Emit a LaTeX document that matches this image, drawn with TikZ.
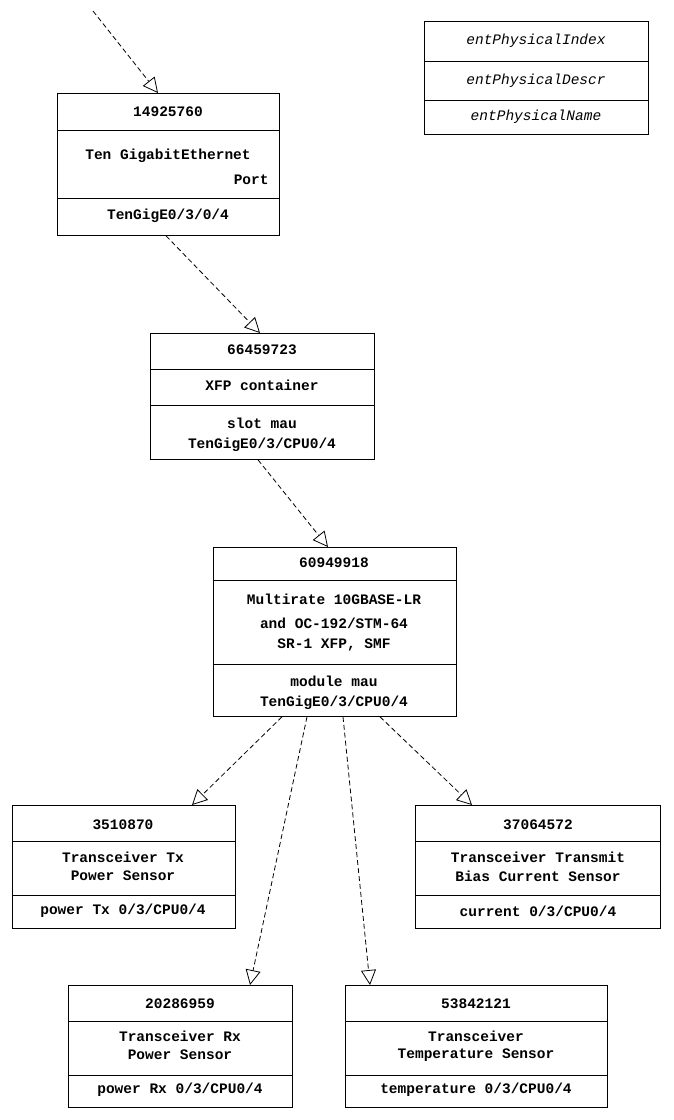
\documentclass[tikz,border=0pt]{standalone}
\usepackage{fontspec}
\setmainfont{Liberation Mono}
\usetikzlibrary{arrows.meta}
\begin{document}
\begin{tikzpicture}[x=1pt,y=-1pt,line width=0.8pt,
 t/.style={font=\fontsize{14.5}{17}\selectfont\bfseries,inner sep=0pt,align=center},
 li/.style={font=\fontsize{14.5}{17}\selectfont\itshape,inner sep=0pt},
 dep/.style={dashed,dash pattern=on 5pt off 3pt,-{Triangle[open,length=15pt,width=15pt]}}]
\useasboundingbox (0,0) rectangle (673,1120);
\newcommand{\mybox}[7]{%
 \node[draw,minimum width={#4-#2},minimum height={#5-#3},inner sep=0pt,anchor=north west] (#1) at (#2,#3) {};
 \draw (#2,#6) -- (#4,#6); \draw (#2,#7) -- (#4,#7);}
% legend
\mybox{leg}{424}{21}{648}{134}{61}{100}
\node[li] (l1) at (536,41) {entPhysicalIndex};
\node[li] (l2) at (536,81) {entPhysicalDescr};
\node[li] (l3) at (536,117) {entPhysicalName};
% box1
\mybox{b1}{57}{93}{279}{235}{130}{198}
\node[t] at (168,112) {14925760};
\node[t] at (168,156) {Ten GigabitEthernet};
\node[t,anchor=east] at (269,180) {Port};
\node[t] at (168,216) {TenGigE0/3/0/4};
% box2
\mybox{b2}{150}{333}{374}{459}{369}{405}
\node[t] at (262,350) {66459723};
\node[t] at (262,385) {XFP container};
\node[t] at (262,423) {slot mau};
\node[t] at (262,445) {TenGigE0/3/CPU0/4};
% box3
\mybox{b3}{213}{547}{456}{716}{580}{664}
\node[t] at (334,563) {60949918};
\node[t] at (334,599) {Multirate 10GBASE-LR};
\node[t] at (334,623) {and OC-192/STM-64};
\node[t] at (334,645) {SR-1 XFP, SMF};
\node[t] at (334,681) {module mau};
\node[t] at (334,703) {TenGigE0/3/CPU0/4};
% box4
\mybox{b4}{12}{805}{235}{928}{841}{895}
\node[t] at (123,825) {3510870};
\node[t] at (123,857) {Transceiver Tx};
\node[t] at (123,876) {Power Sensor};
\node[t] at (123,911) {power Tx 0/3/CPU0/4};
% box5
\mybox{b5}{415}{805}{660}{928}{841}{895}
\node[t] at (538,825) {37064572};
\node[t] at (538,857) {Transceiver Transmit};
\node[t] at (538,876) {Bias Current Sensor};
\node[t] at (538,911) {current 0/3/CPU0/4};
% box6
\mybox{b6}{68}{985}{292}{1107}{1021}{1075}
\node[t] at (180,1004) {20286959};
\node[t] at (180,1036) {Transceiver Rx};
\node[t] at (180,1055) {Power Sensor};
\node[t] at (180,1090) {power Rx 0/3/CPU0/4};
% box7
\mybox{b7}{345}{985}{607}{1107}{1021}{1075}
\node[t] at (476,1004) {53842121};
\node[t] at (476,1036) {Transceiver};
\node[t] at (476,1055) {Temperature Sensor};
\node[t] at (476,1090) {temperature 0/3/CPU0/4};
% connectors
\coordinate (s0) at (93,11);
\draw[dep] (s0) -- (b1.north west -| 158,0);
\draw[dep] (b1.south west -| 166,0) -- (b2.north west -| 260,0);
\draw[dep] (b2.south west -| 258,0) -- (b3.north west -| 328,0);
\draw[dep] (b3.south west -| 282,0) -- (b4.north west -| 192,0);
\draw[dep] (b3.south west -| 307,0) -- (b6.north west -| 250,0);
\draw[dep] (b3.south west -| 343,0) -- (b7.north west -| 370,0);
\draw[dep] (b3.south west -| 380,0) -- (b5.north west -| 472,0);
\end{tikzpicture}
\end{document}
